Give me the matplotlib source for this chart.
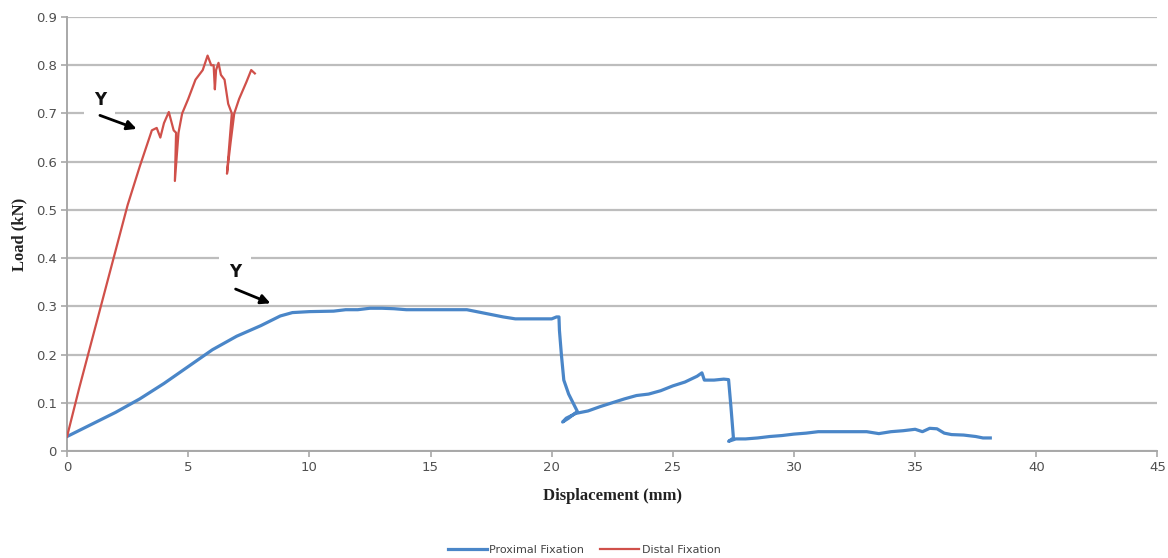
import matplotlib.pyplot as plt

# Proximal fixation (blue)
prox_x = [0, 1, 2, 3, 4, 5, 6, 7, 8, 8.8, 9.3, 10, 11, 11.5, 12, 12.5, 13, 13.5, 14, 15, 16, 16.5,
          17, 17.5, 18, 18.5, 19, 19.5, 20, 20.2, 20.3, 20.32, 20.4, 20.5, 20.7, 20.9, 21.06,
          20.7, 20.45, 20.6, 21.0, 21.5, 22, 22.5, 23, 23.5, 24, 24.5, 25, 25.5, 26, 26.2, 26.3,
          26.7, 27.1, 27.3, 27.4, 27.5, 27.3, 27.6, 28, 28.5, 29, 29.5, 30, 30.5, 31, 32, 33,
          33.5, 34, 34.5, 35, 35.3, 35.6, 35.9, 36.2, 36.5, 37, 37.5, 37.8, 38.1]
prox_y = [0.03, 0.055, 0.08, 0.108, 0.14, 0.175, 0.21, 0.238, 0.26, 0.28, 0.287, 0.289, 0.29,
          0.293, 0.293, 0.296, 0.296, 0.295, 0.293, 0.293, 0.293, 0.293,
          0.288, 0.283, 0.278, 0.274, 0.274, 0.274, 0.274, 0.278, 0.278, 0.25, 0.2, 0.147, 0.118,
          0.098, 0.082,
          0.068, 0.06, 0.068, 0.078, 0.083, 0.092, 0.1, 0.108, 0.115, 0.118, 0.125, 0.135, 0.143,
          0.155, 0.162, 0.147,
          0.147, 0.149, 0.148, 0.09, 0.027, 0.02, 0.025, 0.025, 0.027, 0.03, 0.032, 0.035, 0.037,
          0.04, 0.04, 0.04,
          0.036, 0.04, 0.042, 0.045, 0.04, 0.047, 0.046, 0.037, 0.034, 0.033, 0.03, 0.027, 0.027]

# Distal fixation (red)
dist_x = [0, 0.5, 1, 1.5, 2, 2.5, 3, 3.5, 3.7, 3.85, 4.0, 4.2, 4.4, 4.5, 4.45, 4.6, 4.75, 5.0,
          5.3, 5.6, 5.8, 5.95, 6.05, 6.1, 6.15, 6.25, 6.35, 6.5, 6.65, 6.8, 6.6, 6.75, 6.9,
          7.1, 7.4, 7.6, 7.75]
dist_y = [0.03, 0.13, 0.225, 0.32, 0.415, 0.51, 0.59, 0.665, 0.67, 0.65, 0.68, 0.703, 0.665,
          0.66, 0.56, 0.66, 0.70, 0.73, 0.77, 0.79, 0.82, 0.80, 0.80, 0.75, 0.79, 0.805, 0.78,
          0.77, 0.72, 0.70, 0.575, 0.64, 0.70, 0.73, 0.765, 0.79, 0.783]

x_ticks = [0, 5, 10, 15, 20, 25, 30, 35, 40, 45]
y_ticks = [0, 0.1, 0.2, 0.3, 0.4, 0.5, 0.6, 0.7, 0.8, 0.9]

fig, ax = plt.subplots(figsize=(11.68, 5.58), dpi=100)
fig.subplots_adjust(left=0.0574, right=0.991, top=0.9695, bottom=0.1918)

ax.plot(prox_x, prox_y, color='#4a86c8', lw=2.3, label='Proximal Fixation', zorder=3)
ax.plot(dist_x, dist_y, color='#d0504a', lw=1.6, label='Distal Fixation', zorder=3)

ax.set_xlim(0, 45)
ax.set_ylim(0, 0.9)
ax.set_xticks(x_ticks)
ax.set_yticks(y_ticks)
ax.set_xticklabels([str(t) for t in x_ticks])
ax.set_yticklabels(['0'] + [f'{t:.1f}' for t in y_ticks[1:]])
ax.yaxis.grid(True, color='#bdbdbd', lw=1.6)
ax.set_axisbelow(True)
for s in ['top', 'right']:
    ax.spines[s].set_visible(False)
for s in ['left', 'bottom']:
    ax.spines[s].set_color('#a8a8a8')
    ax.spines[s].set_linewidth(1.4)
ax.tick_params(axis='both', colors='#a8a8a8', labelcolor='#505050', labelsize=9.5, length=4, width=1.2)

ax.set_xlabel('Displacement (mm)', family='Liberation Serif', fontweight='bold', fontsize=12,
              color='#222222', labelpad=10)
ax.set_ylabel('Load (kN)', family='Liberation Serif', fontweight='bold', fontsize=12,
              color='#222222', labelpad=6)

# "Y" markers with arrows
ax.text(1.35, 0.728, 'Y', fontsize=12, fontweight='bold', ha='center', va='center', color='#111111',
        bbox=dict(facecolor='white', edgecolor='none', pad=7), zorder=2)
ax.annotate('', xy=(2.98, 0.666), xytext=(1.25, 0.698),
            arrowprops=dict(arrowstyle='-|>', color='black', lw=2, mutation_scale=14), zorder=4)
ax.text(6.94, 0.372, 'Y', fontsize=12, fontweight='bold', ha='center', va='center', color='#111111',
        bbox=dict(facecolor='white', edgecolor='none', pad=7), zorder=2)
ax.annotate('', xy=(8.5, 0.304), xytext=(6.85, 0.338),
            arrowprops=dict(arrowstyle='-|>', color='black', lw=2, mutation_scale=14), zorder=4)

leg = fig.legend(loc='lower center', bbox_to_anchor=(0.5, -0.012), ncol=2, frameon=False,
                 fontsize=8, handlelength=3.5, columnspacing=1.5, handletextpad=0.2)
for t in leg.get_texts():
    t.set_color('#444444')

plt.savefig('out.png')
